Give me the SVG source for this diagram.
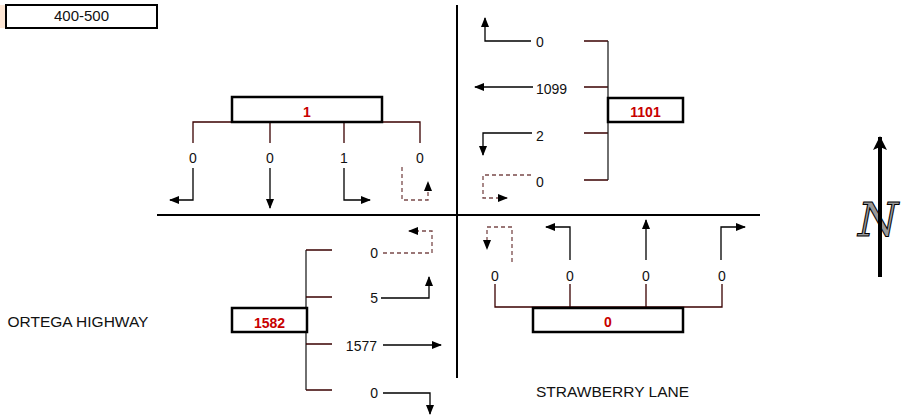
<svg xmlns="http://www.w3.org/2000/svg" width="901" height="415" viewBox="0 0 901 415">
<style>
text{font-family:"Liberation Sans",Arial,sans-serif;font-size:14px;fill:#111}
.val{font-weight:bold;fill:#c80000;text-anchor:middle}
.box{fill:#fff;stroke:#000;stroke-width:2.5}
.tick{stroke:#3a0000;stroke-width:1.3;fill:none}
.arr{stroke:#000;stroke-width:1.3;fill:none;marker-end:url(#ah)}
.ut{stroke:#7a4a4a;stroke-width:1.3;fill:none;stroke-dasharray:4 3}
.utm{marker-end:url(#ah)}
.axis{stroke:#000;stroke-width:2;fill:none}
.c{text-anchor:middle}
.e{text-anchor:end}
</style>
<defs>
<marker id="ah" markerWidth="10" markerHeight="8" refX="9" refY="4" orient="auto" markerUnits="userSpaceOnUse">
<path d="M0,0 L10,4 L0,8 Z" fill="#000"/>
</marker>
<marker id="nh" markerWidth="14" markerHeight="20" refX="13" refY="7" orient="auto" markerUnits="userSpaceOnUse">
<path d="M0,0 L14,7 L0,14 L3,7 Z" fill="#000"/>
</marker>
</defs>
<rect x="0" y="5" width="6" height="23" fill="#fde6d4"/>
<g id="legend">
<rect x="6" y="5" width="151" height="23" fill="#fff" stroke="#000" stroke-width="2"/>
<text x="81.5" y="21" class="c" style="font-size:15px">400-500</text>
</g>
<g id="axes">
<line class="axis" x1="157" y1="215" x2="760" y2="215"/>
<line class="axis" x1="457" y1="5" x2="457" y2="378"/>
</g>
<g id="connectors">
<!-- north approach -->
<path class="tick" d="M193,143 V122 H420 V143 M270,122 V143 M344,122 V143"/>
<path class="arr" d="M193,168 V200 H170"/>
<path class="arr" d="M270,168 V208"/>
<path class="arr" d="M344,168 V200 H370"/>
<path class="ut utm" d="M402,167 V200 H428 V182"/>
<!-- east approach -->
<path class="tick" d="M584,41 H608 M584,87 H608 M584,133 H608 M584,180 H608"/>
<line x1="608" y1="41" x2="608" y2="180" stroke="#222" stroke-width="1.3"/>
<path class="arr" d="M531,41 H485 V18"/>
<path class="arr" d="M533,87 H475"/>
<path class="arr" d="M532,133 H483 V155"/>
<path class="ut utm" d="M531,175 H483 V198 H507"/>
<!-- south approach -->
<path class="tick" d="M495,284 V307 H722 V284 M570,307 V284 M646,307 V284"/>
<path class="ut utm" d="M512,262 V227 H487 V249"/>
<path class="arr" d="M570,260 V227 H546"/>
<path class="arr" d="M646,260 V220"/>
<path class="arr" d="M721,260 V227 H745"/>
<!-- west approach -->
<line x1="306" y1="250" x2="306" y2="390" stroke="#222" stroke-width="1.3"/>
<path class="tick" d="M306,250 H332 M306,297 H332 M306,344 H332 M306,390 H332"/>
<path class="ut utm" d="M383,253 H432 V231 H409"/>
<path class="arr" d="M381,298 H429 V277"/>
<path class="arr" d="M383,345 H441"/>
<path class="arr" d="M383,393 H430 V414"/>
</g>
<g id="north-box">
<rect class="box" x="232" y="97" width="150" height="25"/>
<text x="307" y="116.5" class="val">1</text>
<text x="193" y="163" class="c">0</text>
<text x="270" y="163" class="c">0</text>
<text x="344" y="163" class="c">1</text>
<text x="420" y="163" class="c">0</text>
</g>
<g id="east-box">
<rect class="box" x="608" y="98" width="75" height="24"/>
<text x="645.5" y="116.5" class="val">1101</text>
<text x="536" y="47">0</text>
<text x="536" y="94">1099</text>
<text x="536" y="140.5">2</text>
<text x="536" y="187">0</text>
</g>
<g id="south-box">
<rect class="box" x="533" y="308" width="150" height="24"/>
<text x="608" y="327" class="val">0</text>
<text x="495" y="281" class="c">0</text>
<text x="570" y="281" class="c">0</text>
<text x="646" y="281" class="c">0</text>
<text x="722" y="281" class="c">0</text>
</g>
<g id="west-box">
<rect class="box" x="232" y="308" width="75" height="24"/>
<text x="269.5" y="327.5" class="val">1582</text>
<text x="378" y="258" class="e">0</text>
<text x="378" y="303" class="e">5</text>
<text x="377" y="350.5" class="e">1577</text>
<text x="378" y="397.5" class="e">0</text>
</g>
<g id="streets">
<text x="7.5" y="326.5" style="font-size:15.5px">ORTEGA HIGHWAY</text>
<text x="536" y="396.5" style="font-size:15.5px">STRAWBERRY LANE</text>
</g>
<g id="north-arrow">
<line x1="880" y1="277" x2="880" y2="137" stroke="#000" stroke-width="4" marker-end="url(#nh)"/>
<text x="878" y="236" class="c" style="font-family:'DejaVu Serif',serif;font-style:italic;font-size:46px;fill:#999;stroke:#000;stroke-width:1">N</text>
<line x1="880" y1="190" x2="880" y2="240" stroke="#000" stroke-width="4"/>
</g>
</svg>
